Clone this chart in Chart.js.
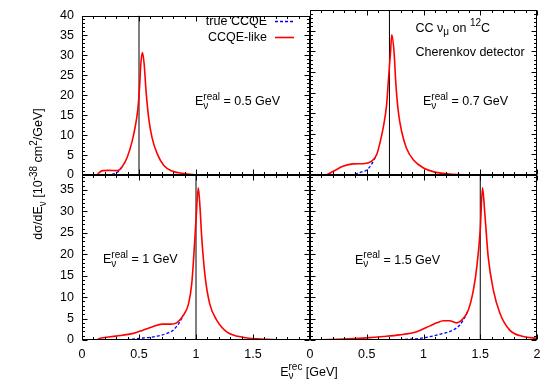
<!DOCTYPE html>
<html>
<head>
<meta charset="utf-8">
<script src="https://cdn.jsdelivr.net/npm/chart.js@4.4.1/dist/chart.umd.min.js"></script>
<style>
html, body { margin: 0; padding: 0; background: #fff; }
#wrap { position: relative; width: 554px; height: 389px; }
#wrap canvas { position: absolute; left: 0; top: 0; }
</style>
</head>
<body>
<div id="wrap">
  <canvas id="p05" width="554" height="389"></canvas>
  <canvas id="p07" width="554" height="389"></canvas>
  <canvas id="p10" width="554" height="389"></canvas>
  <canvas id="p15" width="554" height="389"></canvas>
</div>
<script>
const FONT = "'Liberation Sans', Arial, Helvetica, sans-serif";
const FS = 12.5;

// E_rec [GeV] and dsigma/dE [1e-38 cm^2/GeV]
const eLike05 = [0, 0.10, 0.13, 0.15, 0.18, 0.234, 0.31, 0.35, 0.396, 0.44, 0.47, 0.49, 0.505, 0.516, 0.53, 0.545, 0.563, 0.586, 0.615, 0.66, 0.718, 0.79, 0.88, 0.97, 1.1, 2.0];
const like05  = [0, 0, 0, 0.6, 1.1, 1.15, 1.1, 2.0, 4.4, 8.5, 12.6, 16.6, 22, 27.9, 30.7, 27.9, 20.6, 14.1, 9.3, 5.3, 2.4, 1.0, 0.4, 0.1, 0, 0];
const eTrue05 = [0, 0.2, 0.25, 0.3, 0.33, 0.35];
const true05  = [0, 0, 0.1, 0.5, 1.2, 2.0];

const eLike07 = [0, 0.13, 0.205, 0.29, 0.38, 0.485, 0.54, 0.587, 0.62, 0.65, 0.675, 0.69, 0.71, 0.72, 0.74, 0.757, 0.778, 0.807, 0.85, 0.91, 1.0, 1.1, 1.25, 1.5, 2.0];
const like07  = [0, 0, 0.9, 2.1, 2.7, 2.8, 3.3, 4.9, 8.2, 12.2, 17, 22.7, 30, 34.0, 30, 21.9, 15.4, 10.6, 6.5, 3.7, 1.7, 0.7, 0.2, 0, 0];
const eTrue07 = [0, 0.3, 0.38, 0.44, 0.5, 0.54, 0.587];
const true07  = [0, 0, 0.1, 0.6, 1.2, 2.5, 4.9];

const eLike10 = [0, 0.12, 0.16, 0.3, 0.45, 0.535, 0.62, 0.70, 0.775, 0.83, 0.89, 0.935, 0.963, 0.98, 1.0, 1.02, 1.035, 1.05, 1.08, 1.12, 1.18, 1.27, 1.42, 1.62, 1.8, 2.0];
const like10  = [0, 0, 0.4, 0.9, 1.55, 2.3, 3.1, 3.7, 3.7, 4.0, 5.8, 8.5, 13.2, 19.4, 28, 35.5, 31, 24, 14.8, 8.5, 4.7, 1.9, 0.6, 0.15, 0, 0];
const eTrue10 = [0, 0.3, 0.51, 0.66, 0.745, 0.80, 0.86, 0.89];
const true10  = [0, 0, 0.4, 0.9, 1.55, 2.3, 4.3, 5.8];

const eLike15 = [0, 0.1, 0.3, 0.5, 0.646, 0.79, 0.94, 1.057, 1.116, 1.175, 1.23, 1.29, 1.35, 1.395, 1.44, 1.47, 1.5, 1.52, 1.54, 1.57, 1.615, 1.674, 1.76, 1.88, 2.0];
const like15  = [0, 0.05, 0.25, 0.5, 0.8, 1.2, 1.95, 3.3, 4.0, 4.5, 4.5, 4.0, 5.0, 7.0, 11.7, 17.1, 25.7, 35.5, 29.6, 19.4, 11.7, 6.2, 2.3, 0.8, 0.4];
const eTrue15 = [0, 0.6, 0.8, 1.0, 1.175, 1.26, 1.32, 1.366, 1.395];
const true15  = [0, 0, 0.1, 0.5, 1.55, 2.3, 3.5, 5.4, 7.0];

const eReal = [0.5, 0.7, 1, 1.5];
const yMaxTop = 40;
const yMaxBottom = 38.5;
const seriesNames = ["true CCQE", "CCQE-like"];

Chart.defaults.font.family = FONT;
Chart.defaults.font.size = FS;
Chart.defaults.color = "#000";

function pts(xs, ys) {
    return xs.map((x, i) => ({ x: x, y: ys[i] }));
}

// gnuplot-like enhanced text: {t}, {sup}, {sub}, sup+sub stacked
function richWidth(ctx, parts) {
    let w = 0;
    parts.forEach((p) => {
        if (p.t !== undefined) {
            ctx.font = FS + "px " + FONT;
            w += ctx.measureText(p.t).width;
        } else {
            ctx.font = FS * 0.8 + "px " + FONT;
            w += Math.max(p.sup ? ctx.measureText(p.sup).width : 0, p.sub ? ctx.measureText(p.sub).width : 0);
        }
    });
    return w;
}

function drawRich(ctx, parts, x, y) {
    let cx = x;
    ctx.textBaseline = "alphabetic";
    ctx.textAlign = "left";
    ctx.fillStyle = "#000";
    parts.forEach((p) => {
        if (p.t !== undefined) {
            ctx.font = FS + "px " + FONT;
            ctx.fillText(p.t, cx, y);
            cx += ctx.measureText(p.t).width;
        } else {
            ctx.font = FS * 0.8 + "px " + FONT;
            let w = 0;
            if (p.sup) {
                ctx.fillText(p.sup, cx, y - FS * 0.42);
                w = Math.max(w, ctx.measureText(p.sup).width);
            }
            if (p.sub) {
                ctx.fillText(p.sub, cx, y + FS * 0.28);
                w = Math.max(w, ctx.measureText(p.sub).width);
            }
            cx += w;
        }
    });
}

// box with inward major/minor ticks on all four sides
const framePlugin = {
    id: "frame",
    afterDatasetsDraw(chart) {
        const { ctx, chartArea: a, scales } = chart;
        const x = scales.x, y = scales.y;
        const L = Math.round(a.left) + 0.5, R = Math.round(a.right) - 0.5;
        const T = Math.round(a.top) + 0.5, B = Math.round(a.bottom) - 0.5;
        ctx.save();
        ctx.strokeStyle = "#000";
        ctx.lineWidth = 1;
        ctx.beginPath();
        for (let i = 0; i <= 20; i++) {
            const px = Math.round(x.getPixelForValue(i / 10)) + 0.5;
            const len = i % 5 === 0 ? 5 : 2.5;
            ctx.moveTo(px, B); ctx.lineTo(px, B - len);
            ctx.moveTo(px, T); ctx.lineTo(px, T + len);
        }
        for (let i = 0; i <= Math.floor(y.max); i++) {
            const py = Math.round(y.getPixelForValue(i)) + 0.5;
            const len = i % 5 === 0 ? 5 : 2.5;
            ctx.moveTo(L, py); ctx.lineTo(L + len, py);
            ctx.moveTo(R, py); ctx.lineTo(R - len, py);
        }
        ctx.stroke();
        ctx.strokeRect(L, T, R - L, B - T);
        ctx.restore();
    },
};

const textPlugin = {
    id: "texts",
    afterDraw(chart, args, opts) {
        const ctx = chart.ctx;
        ctx.save();
        (opts.items || []).forEach((it) => {
            if (it.rotate) {
                const w = richWidth(ctx, it.parts);
                ctx.save();
                ctx.translate(it.x, it.y);
                ctx.rotate(-Math.PI / 2);
                drawRich(ctx, it.parts, -w / 2, 0);
                ctx.restore();
            } else if (it.center) {
                drawRich(ctx, it.parts, it.x - richWidth(ctx, it.parts) / 2, it.y);
            } else {
                drawRich(ctx, it.parts, it.x, it.y);
            }
        });
        if (opts.legend) {
            const lg = opts.legend;
            chart.data.datasets.slice(0, 2).reverse().forEach((ds, i) => {
                const yy = lg.y + i * 16;
                ctx.font = FS + "px " + FONT;
                ctx.textAlign = "right";
                ctx.textBaseline = "middle";
                ctx.fillStyle = "#000";
                ctx.fillText(ds.label, lg.x, yy);
                ctx.strokeStyle = ds.borderColor;
                ctx.lineWidth = ds.borderWidth;
                ctx.setLineDash(ds.borderDash || []);
                ctx.beginPath();
                ctx.moveTo(lg.x + 8, Math.round(yy) + 0.5);
                ctx.lineTo(lg.x + 27, Math.round(yy) + 0.5);
                ctx.stroke();
                ctx.setLineDash([]);
            });
        }
        ctx.restore();
    },
};

const Y_W = 30, X_H = 20;

function makePanel(id, eL, vL, eT, vT, er, box, yMax, showX, showY, items, legend) {
    const datasets = [
        {
            label: seriesNames[1],
            data: pts(eL, vL),
            borderColor: "#ff0000",
            borderWidth: 1.6,
            cubicInterpolationMode: "monotone",
            pointRadius: 0,
            order: 0,
        },
        {
            label: seriesNames[0],
            data: pts(eT, vT),
            borderColor: "#0000ff",
            borderWidth: 1.3,
            borderDash: [3, 2],
            cubicInterpolationMode: "monotone",
            pointRadius: 0,
            order: 1,
        },
        {
            label: "E real",
            data: [{ x: er, y: 0 }, { x: er, y: yMax }],
            borderColor: "#000",
            borderWidth: 1,
            pointRadius: 0,
            order: 2,
        },
    ];
    return new Chart(document.getElementById(id), {
        type: "line",
        data: { datasets: datasets },
        options: {
            responsive: false,
            animation: false,
            events: [],
            layout: {
                padding: {
                    left: box.left - Y_W,
                    top: box.top,
                    right: 554 - box.right,
                    bottom: 389 - box.bottom - X_H,
                },
            },
            plugins: {
                legend: { display: false },
                tooltip: { enabled: false },
                texts: { items: items, legend: legend },
            },
            scales: {
                x: {
                    type: "linear",
                    min: 0,
                    max: 2,
                    grid: { display: false, drawTicks: false },
                    border: { display: false },
                    ticks: {
                        display: showX,
                        stepSize: 0.5,
                        padding: 7,
                        maxRotation: 0,
                        callback: (v) => (showX === "noLast" && v === 2 ? "" : String(v)),
                    },
                    afterFit: (s) => { s.height = X_H; },
                },
                y: {
                    type: "linear",
                    min: 0,
                    max: yMax,
                    grid: { display: false, drawTicks: false },
                    border: { display: false },
                    ticks: {
                        display: showY,
                        stepSize: 5,
                        padding: 8,
                        callback: (v) => (v % 5 === 0 ? String(v) : ""),
                    },
                    afterFit: (s) => { s.width = Y_W; },
                },
            },
        },
        plugins: [framePlugin, textPlugin],
    });
}

const eLabel = (val) => [{ t: "E" }, { sup: "real", sub: "\u03bd" }, { t: " = " + val + " GeV" }];

makePanel("p05", eLike05, like05, eTrue05, true05, eReal[0],
    { left: 82, right: 310, top: 10, bottom: 175 }, yMaxTop, false, true,
    [{ parts: eLabel("0.5"), x: 195, y: 105 }],
    { x: 267, y: 21.3 });

makePanel("p07", eLike07, like07, eTrue07, true07, eReal[1],
    { left: 310, right: 537, top: 10, bottom: 175 }, yMaxTop, false, false,
    [
        { parts: [{ t: "CC \u03bd" }, { sub: "\u03bc" }, { t: " on " }, { sup: "12" }, { t: "C" }], x: 415.5, y: 31.5 },
        { parts: [{ t: "Cherenkov detector" }], x: 415.5, y: 56 },
        { parts: eLabel("0.7"), x: 423, y: 105 },
    ], null);

makePanel("p10", eLike10, like10, eTrue10, true10, eReal[2],
    { left: 82, right: 310, top: 175, bottom: 340 }, yMaxBottom, "noLast", true,
    [
        { parts: eLabel("1"), x: 103, y: 263 },
        { parts: [{ t: "E" }, { sup: "rec", sub: "\u03bd" }, { t: " [GeV]" }], x: 309, y: 375.5, center: true },
        { parts: [{ t: "d\u03c3/dE" }, { sub: "\u03bd" }, { t: " [10" }, { sup: "-38" }, { t: " cm" }, { sup: "2" }, { t: "/GeV]" }], x: 42, y: 174, rotate: true },
    ], null);

makePanel("p15", eLike15, like15, eTrue15, true15, eReal[3],
    { left: 310, right: 537, top: 175, bottom: 340 }, yMaxBottom, true, false,
    [{ parts: eLabel("1.5"), x: 355, y: 263.5 }], null);
</script>
</body>
</html>
